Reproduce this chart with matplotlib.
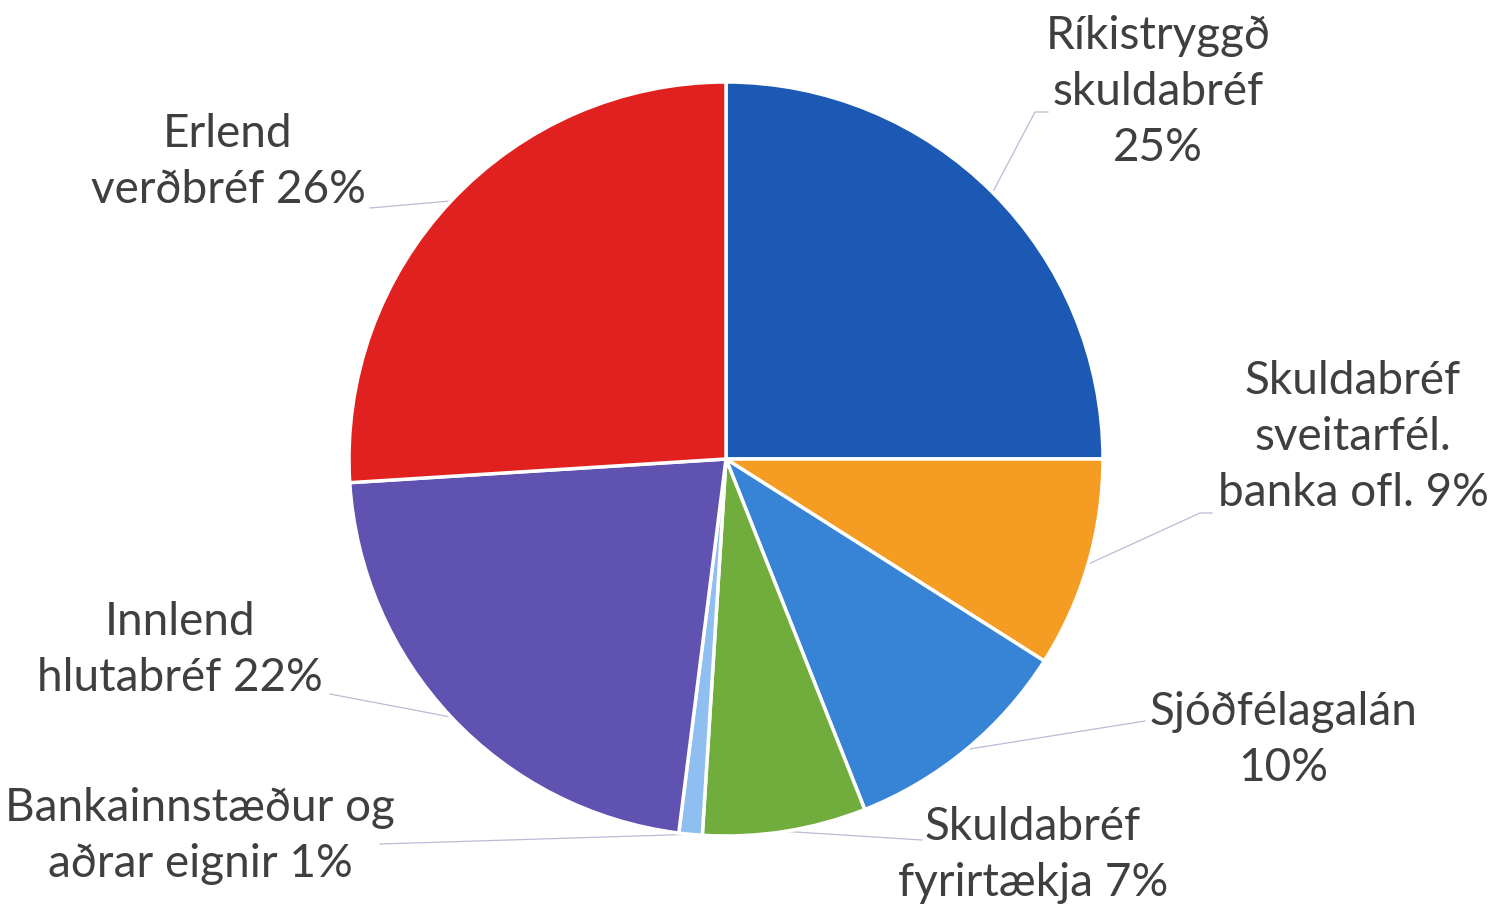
import numpy as np
import matplotlib.pyplot as plt

# asset allocation shares, clockwise from 12 o'clock
labels = ["Ríkistryggð\nskuldabréf\n25%",
          "Skuldabréf\nsveitarfél.\nbanka ofl. 9%",
          "Sjóðfélagalán\n10%",
          "Skuldabréf\nfyrirtækja 7%",
          "Bankainnstæður og\naðrar eignir 1%",
          "Innlend\nhlutabréf 22%",
          "Erlend\nverðbréf 26%"]
shares = [25, 9, 10, 7, 1, 22, 26]
colors = ["#1c59b4", "#f59d22", "#3784d6", "#71ad3c", "#8ebff0", "#5f52b0", "#e0211f"]

# label anchor (pixel coords, y down) and leader line end points
label_pos = [(1158, 92), (1353, 437), (1283, 740), (1033, 855), (200, 836), (180, 650), (228, 162)]
leader_end = [[(1035, 112), (1048, 112)], [(1200, 513), (1212, 513)], [(1145, 721)],
              [(922, 840)], [(380, 844)], [(330, 694)], [(370, 208)]]

W, H = 1497, 911
cx, cy, R = 726, 459, 377

plt.rcParams['font.family'] = ['Lato', 'DejaVu Sans']

fig = plt.figure(figsize=(W / 100, H / 100), dpi=100)
ax = fig.add_axes([0, 0, 1, 1])

wedges, _ = ax.pie(shares, colors=colors, startangle=90, counterclock=False,
                   center=(cx, H - cy), radius=R, frame=True,
                   wedgeprops=dict(edgecolor='white', linewidth=2.5))
ax.set_xlim(0, W)
ax.set_ylim(0, H)
ax.set_aspect('auto')
ax.axis('off')

for w, lab, pos, ends in zip(wedges, labels, label_pos, leader_end):
    mid = np.deg2rad((w.theta1 + w.theta2) / 2)
    x0 = cx + R * np.cos(mid)
    y0 = (H - cy) + R * np.sin(mid)
    xs = [x0] + [p[0] for p in ends]
    ys = [y0] + [H - p[1] for p in ends]
    ax.plot(xs, ys, color='#b8bcd6', linewidth=0.9, zorder=0)
    ax.text(pos[0], H - pos[1], lab, ha='center', va='center', fontsize=33,
            color='#3f3f3f', linespacing=1.42)

fig.savefig('out.png', dpi=100)
